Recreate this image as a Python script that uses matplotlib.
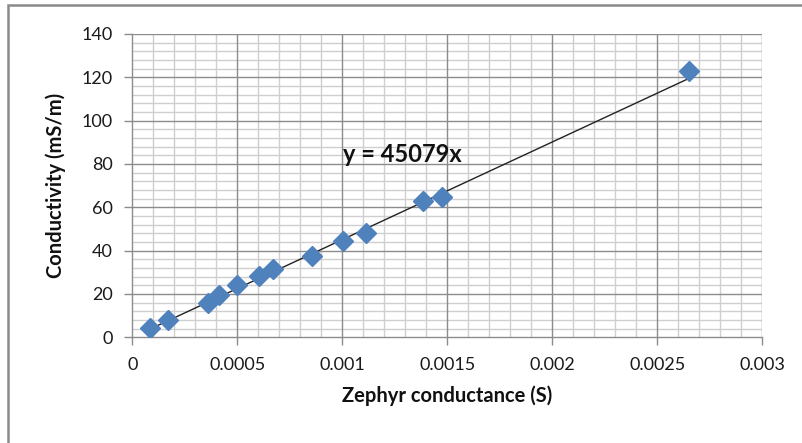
import numpy as np
import matplotlib.pyplot as plt
from matplotlib.ticker import MultipleLocator
from matplotlib.patches import Rectangle

plt.rcParams['font.family'] = ['Lato', 'DejaVu Sans']

# data
conductance = [0.0000843, 0.000169, 0.000362, 0.000414, 0.000500, 0.000605, 0.000669,
               0.000857, 0.001005, 0.001113, 0.001383, 0.001473, 0.002651]
conductivity = [4.5, 7.9, 15.9, 19.4, 24.0, 28.2, 31.3,
                37.4, 44.5, 48.2, 63.0, 64.6, 122.9]
slope = 45079
x_ticks = [0, 0.0005, 0.001, 0.0015, 0.002, 0.0025, 0.003]
x_tick_labels = ['0', '0.0005', '0.001', '0.0015', '0.002', '0.0025', '0.003']
y_ticks = [0, 20, 40, 60, 80, 100, 120, 140]

fig = plt.figure(figsize=(8.03, 4.43), dpi=100)
ax = fig.add_axes([0.1648, 0.2386, 0.7845, 0.6847])

# chart frame (cut off on the right and bottom like the original)
fig.patches.append(Rectangle((0.010, -0.05), 1.1, 1.039, transform=fig.transFigure,
                             fill=False, edgecolor='#8a8a8a', linewidth=1.8))

ax.set_xlim(0, 0.003)
ax.set_ylim(0, 140)
ax.xaxis.set_minor_locator(MultipleLocator(0.0001))
ax.yaxis.set_minor_locator(MultipleLocator(4))
ax.set_xticks(x_ticks)
ax.set_xticklabels(x_tick_labels)
ax.set_yticks(y_ticks)

# minor grid from the axis, major lines drawn on top of it
ax.grid(which='minor', color='#cfcfcf', linewidth=1.0)
ax.set_axisbelow(True)
for xv in x_ticks[1:]:
    ax.axvline(xv, color='#8c8c8c', linewidth=1.0, zorder=1)
for yv in y_ticks[1:]:
    ax.axhline(yv, color='#8c8c8c', linewidth=1.0, zorder=1)

for side in ['top', 'right']:
    ax.spines[side].set_visible(False)
for side in ['left', 'bottom']:
    ax.spines[side].set_color('#8c8c8c')
    ax.spines[side].set_linewidth(1.0)
    ax.spines[side].set_zorder(1.5)

ax.tick_params(which='major', direction='out', length=6, width=1.0, color='#8c8c8c',
               labelsize=13, labelcolor='#1a1a1a', pad=8)
ax.tick_params(which='minor', length=0)

# trendline
xl = np.array([min(conductance), max(conductance)])
ax.plot(xl, slope * xl, color='#222222', linewidth=1.0, zorder=3)

ax.plot(conductance, conductivity, linestyle='none', marker='D', markersize=10,
        color='#4f81bd', markeredgecolor='#4f81bd', zorder=4)

ax.text(0.001003, 84.2, 'y = 45079x', fontsize=17, fontweight='bold', va='center',
        ha='left', color='#111111')

ax.set_xlabel('Zephyr conductance (S)', fontsize=14.5, fontweight='bold', labelpad=9,
              color='#111111')
ax.set_ylabel('Conductivity (mS/m)', fontsize=14.5, fontweight='bold', labelpad=11,
              color='#111111')

fig.savefig('out.png', dpi=100)
